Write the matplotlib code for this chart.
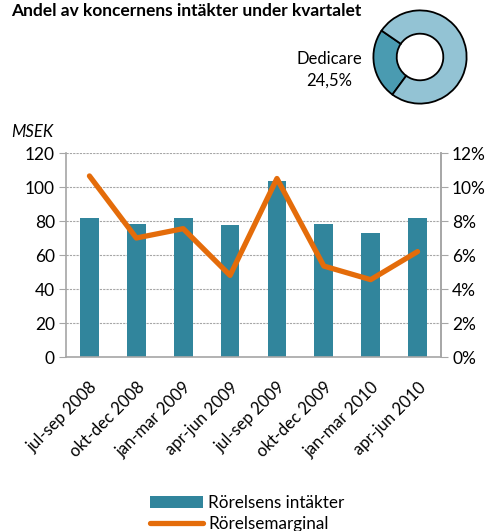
import matplotlib
matplotlib.use("Agg")
import matplotlib.pyplot as plt
from matplotlib.patches import Patch
from matplotlib.lines import Line2D
from matplotlib.ticker import FuncFormatter

plt.rcParams['font.family'] = ['Lato', 'DejaVu Sans']

categories = ["jul-sep 2008", "okt-dec 2008", "jan-mar 2009", "apr-jun 2009",
              "jul-sep 2009", "okt-dec 2009", "jan-mar 2010", "apr-jun 2010"]
revenue = [81.5, 78, 82, 77.5, 103.5, 78.5, 73, 82]          # MSEK
margin = [10.65, 7.0, 7.55, 4.8, 10.5, 5.35, 4.55, 6.2]      # %
donut_labels = ["Dedicare", "Övriga"]
donut_share = [24.5, 75.5]

W, H = 494, 531
fig = plt.figure(figsize=(W / 100, H / 100), dpi=100)

def px_axes(left, top, right, bottom):
    return fig.add_axes([left / W, 1 - bottom / H, (right - left) / W, (bottom - top) / H])

bar_color = "#31859c"
line_color = "#e46c0a"
grid_color = "#a6a6a6"

ax = px_axes(66, 153, 441, 357)
x = list(range(len(categories)))
ax.bar(x, revenue, width=0.4, color=bar_color, zorder=2)
ax.set_xlim(-0.5, len(categories) - 0.5)
ax.set_ylim(0, 120)
ax.set_yticks(range(0, 121, 20))
ax.yaxis.grid(True, color=grid_color, linestyle=(0, (2, 1)), linewidth=0.8, zorder=0)
ax.set_axisbelow(True)
ax.set_xticks(x)
ax.set_xticklabels(categories, rotation=45, ha='right', rotation_mode='anchor', fontsize=12)
ax.tick_params(axis='x', length=0, pad=16)
ax.tick_params(axis='y', length=5, color=grid_color, labelsize=12.5, pad=3)
ax.spines['top'].set_visible(False)
for s in ['left', 'bottom', 'right']:
    ax.spines[s].set_color(grid_color)
    ax.spines[s].set_linewidth(1.2)

ax2 = ax.twinx()
ax2.plot(x, margin, color=line_color, linewidth=3.8, solid_capstyle='round', zorder=3)
ax2.set_ylim(0, 12)
ax2.set_yticks(range(0, 13, 2))
ax2.yaxis.set_major_formatter(FuncFormatter(lambda v, p: f"{int(v)}%"))
ax2.tick_params(axis='y', length=5, color=grid_color, labelsize=12.5, pad=3)
for s in ['top', 'left', 'bottom']:
    ax2.spines[s].set_visible(False)
ax2.spines['right'].set_color(grid_color)
ax2.spines['right'].set_linewidth(1.2)

fig.text(11 / W, 1 - 132 / H, "MSEK", fontsize=12, style='italic', va='center', ha='left')

fig.text(11 / W, 1 - 11 / H, "Andel av koncernens intäkter under kvartalet",
         fontsize=12.5, fontweight='bold', va='center', ha='left')

# donut
axd = px_axes(372, 9, 468, 105)
axd.pie(donut_share, colors=["#4a9bb1", "#93c3d4"], startangle=145.5, counterclock=True,
        radius=1, wedgeprops=dict(width=0.5, edgecolor='black', linewidth=1.3))
axd.set_xlim(-1.03, 1.03)
axd.set_ylim(-1.03, 1.03)
axd.set_aspect('equal')
axd.axis('off')
fig.text(329 / W, 1 - 59 / H, "Dedicare", fontsize=12, ha='center', va='center')
fig.text(329 / W, 1 - 81 / H, "24,5%", fontsize=12, ha='center', va='center')

handles = [Patch(facecolor=bar_color, edgecolor='none'),
           Line2D([0], [0], color=line_color, linewidth=3.8, solid_capstyle='round')]
fig.legend(handles, ["Rörelsens intäkter", "Rörelsemarginal"], loc='upper left',
           bbox_to_anchor=(143 / W, 1 - 488 / H), frameon=False, fontsize=12.3,
           handlelength=3.1, handleheight=0.65, handletextpad=0.3, labelspacing=0.3,
           borderaxespad=0)

fig.savefig("out.png", dpi=100)
